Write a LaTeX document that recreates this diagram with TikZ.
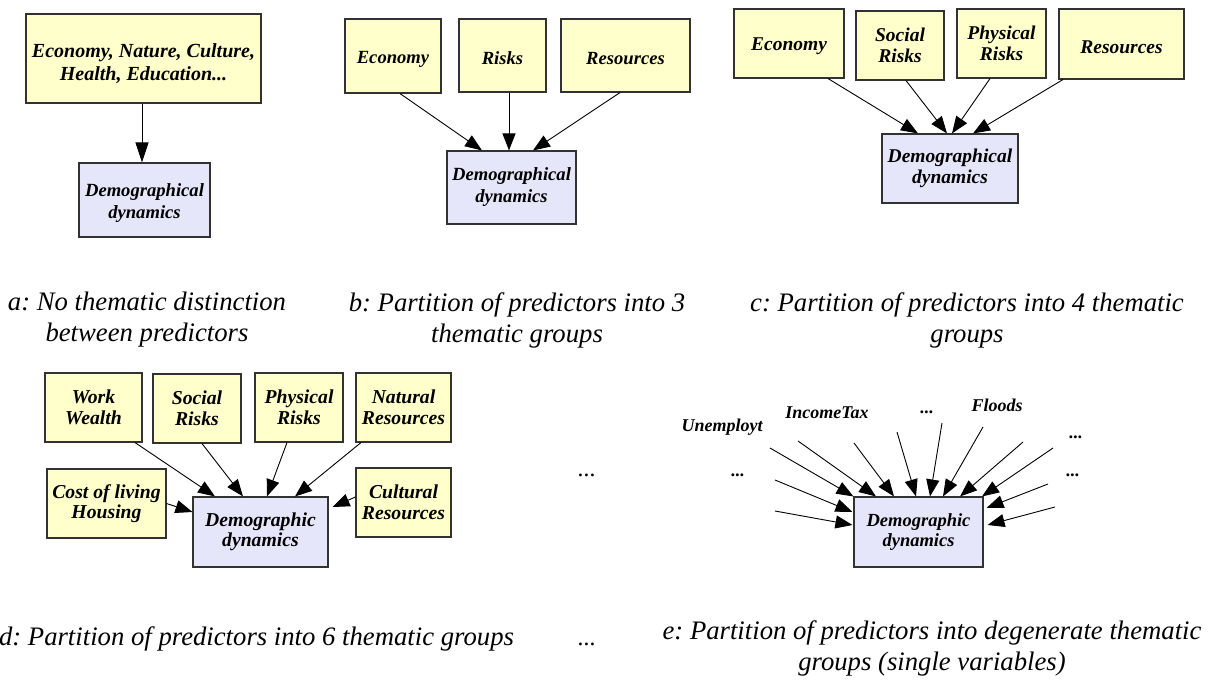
\documentclass[tikz,border=0pt]{standalone}
\usepackage{fontspec}
\setmainfont{Liberation Serif}[ItalicFont={Liberation Serif Italic}, BoldFont={Liberation Serif Bold}, BoldItalicFont={Liberation Serif Bold Italic}]
\newfontfamily\capfont{Liberation Serif Italic}
\usetikzlibrary{arrows.meta}
\definecolor{yfill}{RGB}{255,255,204}
\definecolor{pfill}{RGB}{230,230,250}
\definecolor{bord}{RGB}{50,50,50}
\frenchspacing
\newcommand\lowtwo[3]{\rule{0pt}{#1}#2\\#3}
\begin{document}
\begin{tikzpicture}[x=1pt,y=-1pt,
  gbox/.style={draw=bord, line width=1.1pt, rectangle, inner sep=0pt, align=center,
    font=\bfseries\itshape\fontsize{20}{23}\selectfont},
  fsz/.style 2 args={font=\bfseries\itshape\fontsize{#1}{#2}\selectfont},
  one/.style={execute at begin node={\rule{0pt}{19pt}}},
  ybox/.style={gbox, fill=yfill},
  pbox/.style={gbox, fill=pfill},
  sz/.style 2 args={minimum width=#1pt, minimum height=#2pt},
  arr/.style={line width=0.9pt, -{Triangle[length=17pt,width=13pt]}},
  bigarr/.style={line width=0.9pt, -{Triangle[length=20pt,width=13pt]}},
  captext/.style={align=center, font=\capfont\fontsize{26.7}{31}\selectfont, inner sep=0pt},
  lab/.style={font=\bfseries\itshape\fontsize{18}{21}\selectfont, inner sep=0pt, anchor=base},
  dotlab/.style={font=\capfont\fontsize{24}{28}\selectfont, inner sep=0pt, anchor=base}]
\useasboundingbox (0,0) rectangle (1209,680);

% ---------- panel a
\node[ybox, fsz={20}{23}, sz={235}{89}] (A1) at (143.5,58.5) {\lowtwo{24pt}{Economy, Nature, Culture,}{Health, Education...}};
\node[pbox, fsz={18.6}{22}, sz={131}{74}] (A2) at (144.5,200) {\lowtwo{20pt}{Demographical}{dynamics}};
\draw[bigarr] ([xshift=-1.5]A1.south) -- ([xshift=-2.5]A2.north);

% ---------- panel b
\node[ybox, one, fsz={18.6}{22}, sz={96}{74}] (B1) at (393,56) {Economy};
\node[ybox, one, fsz={18.6}{22}, sz={87}{73}] (B2) at (502.5,55.5) {Risks};
\node[ybox, one, fsz={18.6}{22}, sz={129}{73}] (B3) at (625.5,55.5) {Resources};
\node[pbox, fsz={18.6}{22}, sz={129}{73}] (B4) at (511.5,187.5) {Demographical\\dynamics};
\draw[arr] ([xshift=7]B1.south) -- ([xshift=-29.5]B4.north);
\draw[arr] ([xshift=6.5]B2.south) -- ([xshift=-2.5]B4.north);
\draw[arr] ([xshift=-5.5]B3.south) -- ([xshift=21.5]B4.north);

% ---------- panel c
\node[ybox, one, fsz={19.5}{20.5}, sz={110}{69}] (C1) at (789,43.5) {Economy};
\node[ybox, fsz={19.5}{20.5}, sz={88}{69}] (C2) at (900,45.5) {Social\\Risks};
\node[ybox, fsz={19.5}{20.5}, sz={89}{69}] (C3) at (1001.5,43.5) {Physical\\Risks};
\node[ybox, one, fsz={19.5}{20.5}, sz={125}{70}] (C4) at (1121.5,44) {Resources};
\node[pbox, fsz={19.5}{20.5}, sz={136}{69}] (C5) at (950,168.5) {Demographical\\dynamics};
\draw[arr] ([xshift=39]C1.south) -- ([xshift=-32]C5.north);
\draw[arr] ([xshift=6]C2.south) -- ([xshift=-3]C5.north);
\draw[arr] ([xshift=-11.5]C3.south) -- ([xshift=2]C5.north);
\draw[arr] ([xshift=-58.5]C4.south) -- ([xshift=23]C5.north);

% ---------- panel d
\node[ybox, fsz={19.7}{20.5}, sz={97}{69}] (D1) at (93.5,407.5) {Work\\Wealth};
\node[ybox, fsz={19.7}{20.5}, sz={88}{69}] (D2) at (197,408.5) {Social\\Risks};
\node[ybox, fsz={19.7}{20.5}, sz={88}{69}] (D3) at (299,407.5) {Physical\\Risks};
\node[ybox, fsz={19.7}{20.5}, sz={95}{69}] (D4) at (403.5,407.5) {Natural\\Resources};
\node[ybox, fsz={19.7}{20.5}, sz={119}{69}] (D5) at (106.5,503.5) {Cost of living\\Housing};
\node[ybox, fsz={19.7}{20.5}, sz={95}{69}] (D6) at (403.5,502.5) {Cultural\\Resources};
\node[pbox, fsz={19.7}{20.5}, sz={135}{70}] (D7) at (260.5,532) {Demographic\\dynamics};
\draw[arr] ([xshift=41.5]D1.south) -- ([xshift=-45.5]D7.north);
\draw[arr] ([xshift=5]D2.south) -- ([xshift=-17.5]D7.north);
\draw[arr] ([xshift=-12]D3.south) -- ([xshift=6.5]D7.north);
\draw[arr] ([xshift=-42.5]D4.south) -- ([xshift=34.5]D7.north);
\draw[arr] (D5.east) -- ([yshift=20]D7.west);
\draw[arr] ([yshift=5.5]D6.west) -- ([xshift=4,yshift=25]D7.east);

\node[dotlab] (mdots) at (587,476) {...};

% ---------- panel e
\node[pbox, fsz={18.5}{20.5}, sz={129}{70}] (E) at (918.5,532) {Demographic\\dynamics};
\node[lab] (l1) at (722,431) {Unemployt};
\node[lab] (l2) at (827,418) {IncomeTax};
\node[lab] (l3) at (927,413) {...};
\node[lab] (l4) at (997,411) {Floods};
\node[lab] (l5) at (1076,438) {...};
\node[lab] (l6) at (738,476) {...};
\node[lab] (l7) at (1073,476) {...};
\coordinate (s1) at (770,448);
\coordinate (s2) at (798,441);
\coordinate (s3) at (854,443);
\coordinate (s4) at (897,432);
\coordinate (s5) at (942,423);
\coordinate (s6) at (983,427);
\coordinate (s7) at (1023,442);
\coordinate (s8) at (1053,448);
\coordinate (s9) at (775,480);
\coordinate (s10) at (775,511);
\coordinate (s11) at (1048,484);
\coordinate (s12) at (1055,507);
\draw[arr] (s1) -- (E.north west);
\draw[arr] (s2) -- ([xshift=-42.5]E.north);
\draw[arr] (s3) -- ([xshift=-24.5]E.north);
\draw[arr] (s4) -- ([xshift=-2.5]E.north);
\draw[arr] (s5) -- ([xshift=11.5]E.north);
\draw[arr] (s6) -- ([xshift=24.5]E.north);
\draw[arr] (s7) -- ([xshift=41.5]E.north);
\draw[arr] (s8) -- ([xshift=63.5]E.north);
\draw[arr] (s9) -- ([xshift=-1,yshift=20]E.west);
\draw[arr] (s10) -- ([xshift=-1,yshift=7]E.west);
\draw[arr] (s11) -- ([xshift=3,yshift=24]E.east);
\draw[arr] (s12) -- ([xshift=4,yshift=7]E.east);

% ---------- captions
\node[captext] (capa) at (147,320) {a: No thematic distinction\\between predictors};
\node[captext] (capb) at (517,320) {b: Partition of predictors into 3\\thematic groups};
\node[captext] (capc) at (967,320) {c: Partition of predictors into 4 thematic\\groups};
\node[captext] (capd) at (256.5,639) {d: Partition of predictors into 6 thematic groups};
\node[dotlab] (capdots) at (587,645) {...};
\node[captext] (cape) at (932,648) {e: Partition of predictors into degenerate thematic\\groups (single variables)};
\end{tikzpicture}
\end{document}
